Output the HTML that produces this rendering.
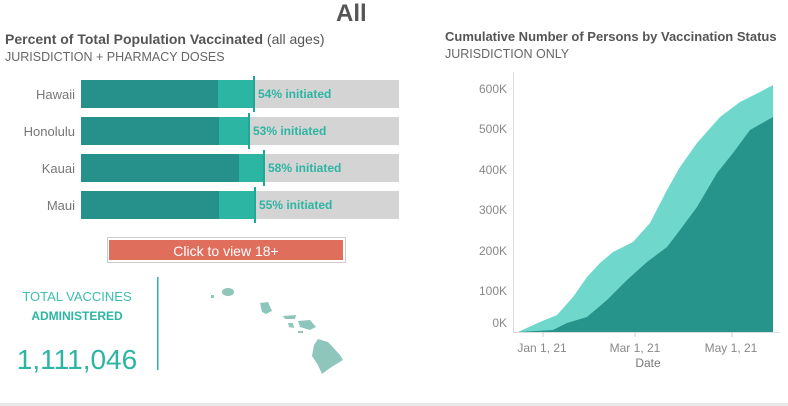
<!DOCTYPE html>
<html><head><style>
body{margin:0;width:788px;height:406px;background:#fff;font-family:"Liberation Sans",sans-serif;position:relative;overflow:hidden}
.a{position:absolute;white-space:nowrap}
</style></head><body>
<div class="a" style="left:336px;top:0px;font-size:24px;font-weight:bold;color:#555">All</div>
<div class="a" style="left:5px;top:31px;font-size:14px;color:#555"><b>Percent of Total Population Vaccinated</b> (all ages)</div>
<div class="a" style="left:5px;top:50px;font-size:12.5px;color:#666">JURISDICTION + PHARMACY DOSES</div>
<div class="a" style="left:445px;top:29px;font-size:13px;font-weight:bold;color:#555">Cumulative Number of Persons by Vaccination Status</div>
<div class="a" style="left:445px;top:47px;font-size:12.5px;color:#666">JURISDICTION ONLY</div>
<svg class="a" style="left:0;top:0" width="788" height="406">
<g font-size="13" fill="#777" text-anchor="end" font-family="Liberation Sans">
<text x="75" y="99">Hawaii</text><text x="75" y="136">Honolulu</text><text x="75" y="173">Kauai</text><text x="75" y="210">Maui</text></g>
<g>
<rect x="81" y="80" width="318" height="28" fill="#d4d4d4"/><rect x="81" y="80" width="173" height="28" fill="#2db5a3"/><rect x="81" y="80" width="137" height="28" fill="#26918a"/><rect x="253" y="76" width="2" height="36" fill="#1fa898"/>
<rect x="81" y="117" width="318" height="28" fill="#d4d4d4"/><rect x="81" y="117" width="168" height="28" fill="#2db5a3"/><rect x="81" y="117" width="138" height="28" fill="#26918a"/><rect x="248" y="113" width="2" height="36" fill="#1fa898"/>
<rect x="81" y="154" width="318" height="28" fill="#d4d4d4"/><rect x="81" y="154" width="183" height="28" fill="#2db5a3"/><rect x="81" y="154" width="158" height="28" fill="#26918a"/><rect x="263" y="150" width="2" height="36" fill="#1fa898"/>
<rect x="81" y="191" width="318" height="28" fill="#d4d4d4"/><rect x="81" y="191" width="174" height="28" fill="#2db5a3"/><rect x="81" y="191" width="138" height="28" fill="#26918a"/><rect x="254" y="187" width="2" height="36" fill="#1fa898"/>
</g>
<g font-size="12" font-weight="bold" fill="#2db5a3" font-family="Liberation Sans">
<text x="258" y="98">54% initiated</text><text x="253" y="135">53% initiated</text><text x="268" y="172">58% initiated</text><text x="259" y="209">55% initiated</text></g>
<rect x="107.5" y="237.5" width="238" height="25" fill="#fff" stroke="#ccc"/>
<rect x="109" y="240" width="234" height="20" fill="#e06e5c"/>
<text x="226" y="256" text-anchor="middle" font-size="14" fill="#fff" font-family="Liberation Sans">Click to view 18+</text>
<text x="77" y="301" text-anchor="middle" font-size="13" fill="#3cc0ad" font-family="Liberation Sans">TOTAL VACCINES</text>
<text x="77" y="320" text-anchor="middle" font-size="12" font-weight="bold" fill="#2db5a3" font-family="Liberation Sans">ADMINISTERED</text>
<text x="77" y="369" text-anchor="middle" font-size="28" fill="#2db5a3" font-family="Liberation Sans">1,111,046</text>
<rect x="157" y="277" width="1.5" height="93" fill="#2db5a3"/>
<g fill="#8ec6bc">
<ellipse cx="228" cy="292" rx="6" ry="4"/><rect x="211" y="295" width="3" height="3"/>
<polygon points="260,303 268,302 272,311 266,314 262,312"/>
<polygon points="283,316 296,315 295,319 285,319"/><polygon points="298,321 310,320 316,327 310,330 300,327"/>
<polygon points="288,323 293,323 294,328 289,327"/><rect x="298" y="331" width="5" height="2"/>
<polygon points="318,339 328,342 340,355 343,360 330,368 322,374 318,365 312,356 314,345"/>
</g>
<line x1="513.5" y1="72" x2="513.5" y2="332" stroke="#ddd"/>
<line x1="513" y1="332.5" x2="780" y2="332.5" stroke="#ddd"/>
<g stroke="#ccc"><line x1="543" y1="332" x2="543" y2="337"/><line x1="635" y1="332" x2="635" y2="337"/><line x1="732" y1="332" x2="732" y2="337"/></g>
<path d="M518,332 L540,322 557,315 573,297 587,277 600,263 613,252 633,242 650,223 667,190 680,167 697,143 720,117 740,102 760,92 773,85 L773,332 Z" fill="#6fd7cc"/>
<path d="M518,332 L553,330 567,323 587,317 607,300 627,280 647,262 667,247 680,230 697,207 717,173 733,153 750,130 773,117 L773,332 Z" fill="#27948b"/>
<g font-size="12" fill="#888" text-anchor="end" font-family="Liberation Sans">
<text x="507" y="93">600K</text><text x="507" y="133">500K</text><text x="507" y="174">400K</text><text x="507" y="214">300K</text><text x="507" y="255">200K</text><text x="507" y="295">100K</text><text x="507" y="327">0K</text></g>
<g font-size="12" fill="#888" text-anchor="middle" font-family="Liberation Sans">
<text x="542" y="352">Jan 1, 21</text><text x="635" y="352">Mar 1, 21</text><text x="731" y="352">May 1, 21</text>
<text x="648" y="367" fill="#777">Date</text></g>
<rect x="0" y="403" width="788" height="3" fill="#e8e8e8"/>
</svg>
</body></html>
